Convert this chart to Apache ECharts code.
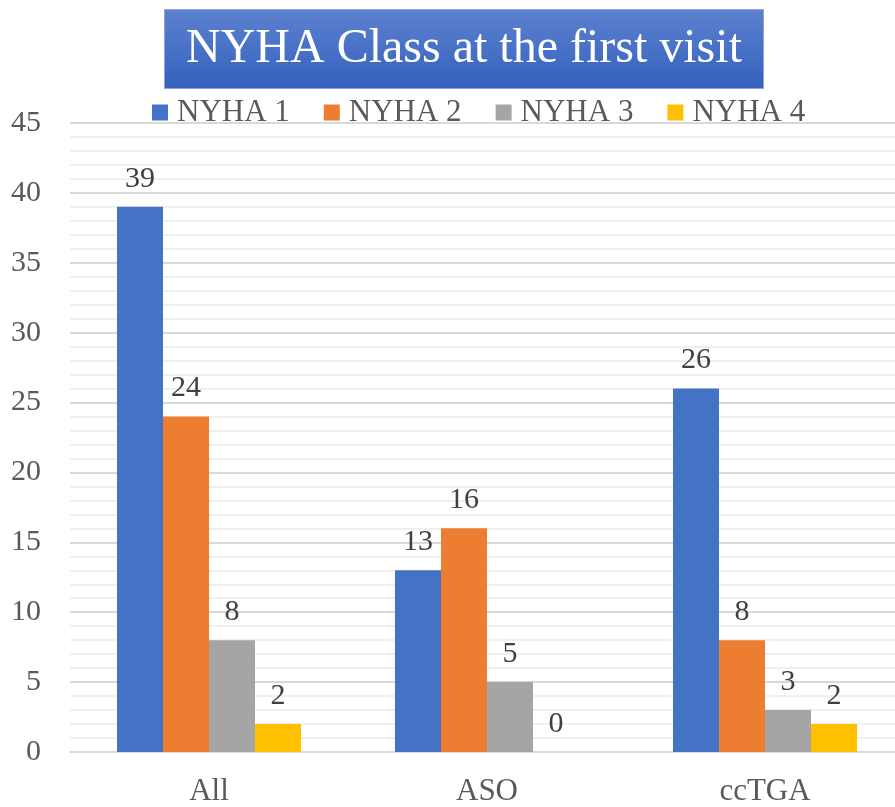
<!DOCTYPE html>
<html>
<head>
<meta charset="utf-8">
<script src="https://cdn.jsdelivr.net/npm/echarts@6/dist/echarts.min.js"></script>
<style>
html,body{margin:0;padding:0;background:#fff;overflow:hidden;}
#chart{width:910px;height:807px;}
</style>
</head>
<body>
<div id="chart"></div>
<script>
const titleText = "NYHA Class at the first visit";
const categories = ["All", "ASO", "ccTGA"];
const seriesNames = ["NYHA 1", "NYHA 2", "NYHA 3", "NYHA 4"];
const nyha1 = [39, 13, 26];
const nyha2 = [24, 16, 8];
const nyha3 = [8, 5, 3];
const nyha4 = [2, 0, 2];
const colors = ["#4472C4", "#ED7D31", "#A5A5A5", "#FFC000"];

const FONT = '"Liberation Serif", "Times New Roman", serif';
const allData = [nyha1, nyha2, nyha3, nyha4];

const chart = echarts.init(document.getElementById('chart'));
chart.setOption({
  animation: false,
  backgroundColor: '#ffffff',
  color: colors,
  title: {
    text: titleText,
    left: 164,
    top: 9,
    padding: [12, 22, 12, 22],
    backgroundColor: new echarts.graphic.LinearGradient(0, 0, 0, 1, [
      {offset: 0, color: '#5d81d0'},
      {offset: 1, color: '#3461bd'}
    ]),
    borderColor: '#8aa6dc',
    borderWidth: 1,
    textStyle: {
      fontFamily: FONT,
      fontSize: 48,
      fontWeight: 'normal',
      color: '#ffffff',
      lineHeight: 56
    }
  },
  legend: {
    data: seriesNames,
    left: 152,
    top: 97,
    padding: 0,
    itemWidth: 16,
    itemHeight: 16,
    itemGap: 34,
    icon: 'rect',
    textStyle: {
      fontFamily: FONT,
      fontSize: 31,
      color: '#595959',
      padding: [0, 0, 0, 4]
    }
  },
  grid: {
    left: 70,
    top: 123,
    width: 834,
    height: 631,
    containLabel: false
  },
  xAxis: {
    type: 'category',
    data: categories,
    axisTick: {show: false},
    axisLine: {lineStyle: {color: '#d9d9d9', width: 2}},
    axisLabel: {
      fontFamily: FONT,
      fontSize: 31,
      color: '#595959',
      margin: 24
    }
  },
  yAxis: {
    type: 'value',
    min: 0,
    max: 45,
    interval: 5,
    splitNumber: 9,
    minorTick: {show: false, splitNumber: 5},
    minorSplitLine: {show: true, lineStyle: {color: '#f0f0f0', width: 2}},
    axisLine: {show: false},
    axisTick: {show: false},
    splitLine: {lineStyle: {color: '#d9d9d9', width: 2}},
    axisLabel: {
      fontFamily: FONT,
      fontSize: 30,
      color: '#595959',
      margin: 29
    }
  },
  series: seriesNames.map((name, i) => ({
    name: name,
    type: 'bar',
    data: allData[i],
    barWidth: 46,
    barGap: '0%',
    itemStyle: {color: colors[i]},
    label: {
      show: true,
      position: 'top',
      distance: 13,
      fontFamily: FONT,
      fontSize: 30,
      color: '#404040'
    }
  }))
});
</script>
</body>
</html>
